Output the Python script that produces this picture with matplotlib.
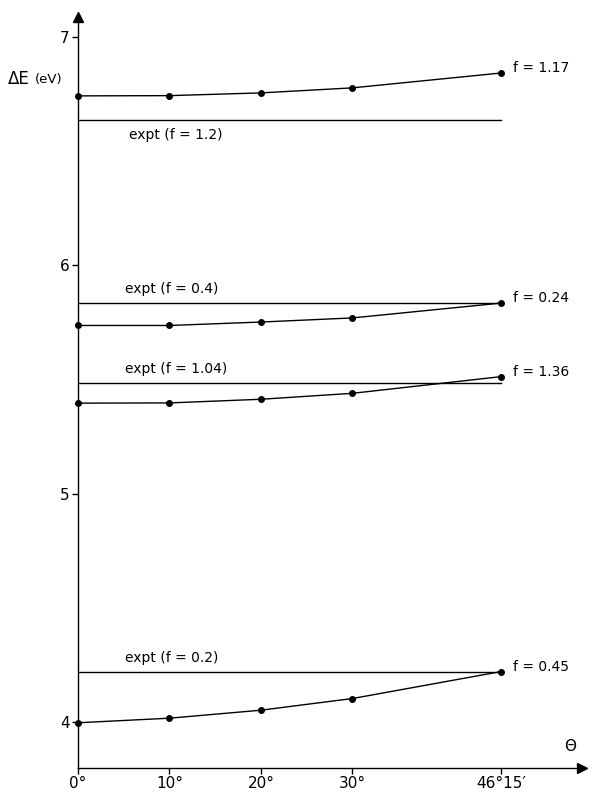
import numpy as np
import matplotlib
matplotlib.use("Agg")
import matplotlib.pyplot as plt

# angle theta (degrees); last point is 46 deg 15'
theta = [0, 10, 20, 30, 46.25]
theta_labels = ["0°", "10°", "20°", "30°", "46°15′"]

# calculated excitation energies (eV)
e_117 = [6.742, 6.743, 6.755, 6.777, 6.842]
e_024 = [5.737, 5.737, 5.752, 5.770, 5.835]
e_136 = [5.397, 5.398, 5.414, 5.440, 5.513]
e_045 = [3.998, 4.018, 4.053, 4.104, 4.222]

calc_labels = ["f = 1.17", "f = 0.24", "f = 1.36", "f = 0.45"]

# experimental values (eV)
expt_e = [6.637, 5.835, 5.484, 4.222]
expt_labels = ["expt (f = 1.2)", "expt (f = 0.4)", "expt (f = 1.04)", "expt (f = 0.2)"]
expt_below = [True, False, False, False]

yticks = [4, 5, 6, 7]

fig = plt.figure(figsize=(5.92, 7.99), dpi=100)
ax = fig.add_axes([0.1318, 0.0388, 0.851, 0.940])
ax.set_xlim(0, 55.1)
ax.set_ylim(3.80, 7.0875)

for s in ["top", "right"]:
    ax.spines[s].set_visible(False)
for s in ["left", "bottom"]:
    ax.spines[s].set_linewidth(1.0)

# arrow heads on the axes
ax.plot(1, 0, ">k", ms=7, transform=ax.transAxes, clip_on=False)
ax.plot(0, 1, "^k", ms=7, transform=ax.transAxes, clip_on=False)

lw = 1.0
for yv in expt_e:
    ax.plot([0, theta[-1]], [yv, yv], color="k", lw=lw)

for ser, lab in zip([e_117, e_024, e_136, e_045], calc_labels):
    ax.plot(theta, ser, color="k", lw=lw, marker="o", ms=4, clip_on=False)
    ax.text(theta[-1] + 1.3, ser[-1] + 0.022, lab, fontsize=10,
            ha="left", va="center")

for yv, lab, below in zip(expt_e, expt_labels, expt_below):
    if below:
        ax.text(5.6, yv - 0.035, lab, fontsize=10, ha="left", va="top")
    else:
        ax.text(5.1, yv + 0.03, lab, fontsize=10, ha="left", va="bottom")

ax.set_xticks(theta)
ax.set_xticklabels(theta_labels, fontsize=11)
ax.set_yticks(yticks)
ax.set_yticklabels([str(t) for t in yticks], fontsize=11)
ax.tick_params(axis="both", direction="out", length=4, width=1.0, pad=2)

ax.text(-0.14, 0.918, "ΔE", fontsize=12, transform=ax.transAxes,
        ha="left", va="center")
ax.text(-0.085, 0.917, "(eV)", fontsize=9.5, transform=ax.transAxes,
        ha="left", va="center")
ax.text(0.965, 0.028, "Θ", fontsize=11, transform=ax.transAxes,
        ha="left", va="center")

fig.savefig("out.png", dpi=100)
